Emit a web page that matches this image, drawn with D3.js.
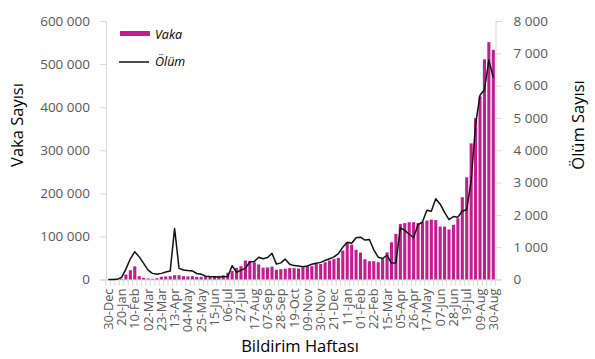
<!DOCTYPE html>
<html><head><meta charset="utf-8">
<script src="https://cdn.jsdelivr.net/npm/d3@7"></script>
<style>
html,body{margin:0;padding:0;background:#fff;}
svg{display:block;font-family:"Open Sans",sans-serif;}
</style></head>
<body><svg id="c" width="595" height="359"></svg>
<script>
const weeks = ["30-Dec","06-Jan","13-Jan","20-Jan","27-Jan","03-Feb","10-Feb","17-Feb","24-Feb","02-Mar",
"09-Mar","16-Mar","23-Mar","30-Mar","06-Apr","13-Apr","20-Apr","27-Apr","04-May","11-May",
"18-May","25-May","01-Jun","08-Jun","15-Jun","22-Jun","29-Jun","06-Jul","13-Jul","20-Jul",
"27-Jul","03-Aug","10-Aug","17-Aug","24-Aug","31-Aug","07-Sep","14-Sep","21-Sep","28-Sep",
"05-Oct","12-Oct","19-Oct","26-Oct","02-Nov","09-Nov","16-Nov","23-Nov","30-Nov","07-Dec",
"14-Dec","21-Dec","28-Dec","04-Jan","11-Jan","18-Jan","25-Jan","01-Feb","08-Feb","15-Feb",
"22-Feb","01-Mar","08-Mar","15-Mar","22-Mar","29-Mar","05-Apr","12-Apr","19-Apr","26-Apr",
"03-May","10-May","17-May","24-May","31-May","07-Jun","14-Jun","21-Jun","28-Jun","05-Jul",
"12-Jul","19-Jul","26-Jul","02-Aug","09-Aug","16-Aug","23-Aug","30-Aug"];
const vaka = [0,60,100,1200,11500,21500,30500,7700,3900,2300,
1500,3000,6200,7000,7700,10000,10000,7700,7000,7700,
6200,6200,7000,7500,7700,8500,10000,15500,20000,27000,
31000,44000,42500,40000,35000,27500,28000,30000,22500,24000,
25000,26500,26500,25500,28500,31000,31000,36000,36000,40000,
44000,48000,50000,67000,86500,81000,69000,62500,47000,42500,
42500,40000,48000,63000,86500,106000,129000,131000,133000,133000,
131000,133000,137000,139000,138000,123000,123000,116000,127000,142000,
191000,237000,316000,375000,425000,511000,551000,533000];
const olum = [0,0,5,60,320,640,860,700,500,290,
190,160,190,230,260,1580,345,293,275,265,
185,165,100,90,85,80,85,90,426,220,
290,345,550,555,690,640,680,808,475,515,
630,470,430,415,395,420,470,500,530,590,
640,700,800,1000,1150,1120,1290,1310,1220,1240,
920,690,650,750,500,520,1600,1520,1400,1300,
1700,1780,2140,2110,2500,2330,2080,1850,1950,1930,
2120,2160,3050,4800,5700,5870,6790,6250];
const leftTicks = [0,100000,200000,300000,400000,500000,600000];
const rightTicks = [0,1000,2000,3000,4000,5000,6000,7000,8000];
const labelEvery = 3;

const svg = d3.select("#c");
const L = 106, R = 495.5, T = 21, B = 279.5;
const fmt = v => d3.format(",")(v).replace(/,/g, " ");

const x = d3.scaleBand().domain(d3.range(weeks.length)).range([L, R]).paddingInner(0.3).paddingOuter(0.15);
const yL = d3.scaleLinear().domain([0, 600000]).range([B, T]);
const yR = d3.scaleLinear().domain([0, 8000]).range([B, T]);

const axisCol = "#d9d9d9", textCol = "#595959";

// left axis
const gL = svg.append("g").attr("transform", `translate(${L},0)`)
  .call(d3.axisLeft(yL).tickValues(leftTicks).tickSize(6).tickPadding(10).tickFormat(fmt));
gL.select(".domain").attr("stroke", axisCol);
gL.selectAll(".tick line").attr("stroke", axisCol);
gL.selectAll("text").attr("fill", textCol).style("font-size", "13.5px").style("font-family", "Open Sans");

// right axis
const gR = svg.append("g").attr("transform", `translate(${R},0)`)
  .call(d3.axisRight(yR).tickValues(rightTicks).tickSize(6).tickPadding(12).tickFormat(fmt));
gR.select(".domain").attr("stroke", axisCol);
gR.selectAll(".tick line").attr("stroke", axisCol);
gR.selectAll("text").attr("fill", textCol).style("font-size", "13.5px").style("font-family", "Open Sans");

// x axis
const gX = svg.append("g").attr("transform", `translate(0,${B})`)
  .call(d3.axisBottom(x).tickSize(0).tickFormat(""));
gX.select(".domain").attr("stroke", axisCol);
// tick marks at category boundaries
svg.append("g").selectAll("line").data(d3.range(weeks.length + 1)).join("line")
  .attr("x1", i => L + x.step() * (x.paddingOuter() - x.paddingInner()/2) + i * x.step())
  .attr("x2", i => L + x.step() * (x.paddingOuter() - x.paddingInner()/2) + i * x.step())
  .attr("y1", B).attr("y2", B + 6).attr("stroke", axisCol);
// x labels
svg.append("g").selectAll("text").data(weeks.map((w, i) => ({w, i})).filter(d => d.i % labelEvery === 0)).join("text")
  .attr("transform", d => `translate(${x(d.i) + x.bandwidth()/2 + 4.5},${B + 9}) rotate(-90)`)
  .attr("text-anchor", "end")
  .attr("fill", textCol).style("font-size", "12.8px")
  .text(d => d.w);

// bars
const barCol = "#c21f8e";
svg.append("g").selectAll("rect").data(vaka).join("rect")
  .attr("x", (d, i) => x(i)).attr("width", x.bandwidth())
  .attr("y", d => yL(d)).attr("height", d => B - yL(d))
  .attr("fill", barCol);

// line
const line = d3.line().x((d, i) => x(i) + x.bandwidth()/2).y(d => yR(d));
svg.append("path").datum(olum).attr("d", line)
  .attr("fill", "none").attr("stroke", "#111").attr("stroke-width", 1.5).attr("stroke-linejoin", "round");

// titles
svg.append("text").attr("transform", "translate(23,125) rotate(-90)").attr("text-anchor", "middle")
  .style("font-size", "16.5px").attr("fill", "#000").text("Vaka Sayısı");
svg.append("text").attr("transform", "translate(584,125) rotate(-90)").attr("text-anchor", "middle")
  .style("font-size", "16.5px").attr("fill", "#000").text("Ölüm Sayısı");
svg.append("text").attr("x", 300).attr("y", 352).attr("text-anchor", "middle")
  .style("font-size", "16.5px").attr("fill", "#000").text("Bildirim Haftası");

// legend
const lg = svg.append("g");
lg.append("rect").attr("x", 120).attr("y", 31).attr("width", 30).attr("height", 5).attr("fill", barCol);
lg.append("text").attr("x", 155).attr("y", 39).style("font-size", "12.5px").style("font-style", "italic").attr("fill", "#000").text("Vaka");
lg.append("line").attr("x1", 119).attr("x2", 149).attr("y1", 62).attr("y2", 62).attr("stroke", "#111").attr("stroke-width", 1.5);
lg.append("text").attr("x", 155).attr("y", 66).style("font-size", "12.5px").style("font-style", "italic").attr("fill", "#000").text("Ölüm");
</script></body></html>
